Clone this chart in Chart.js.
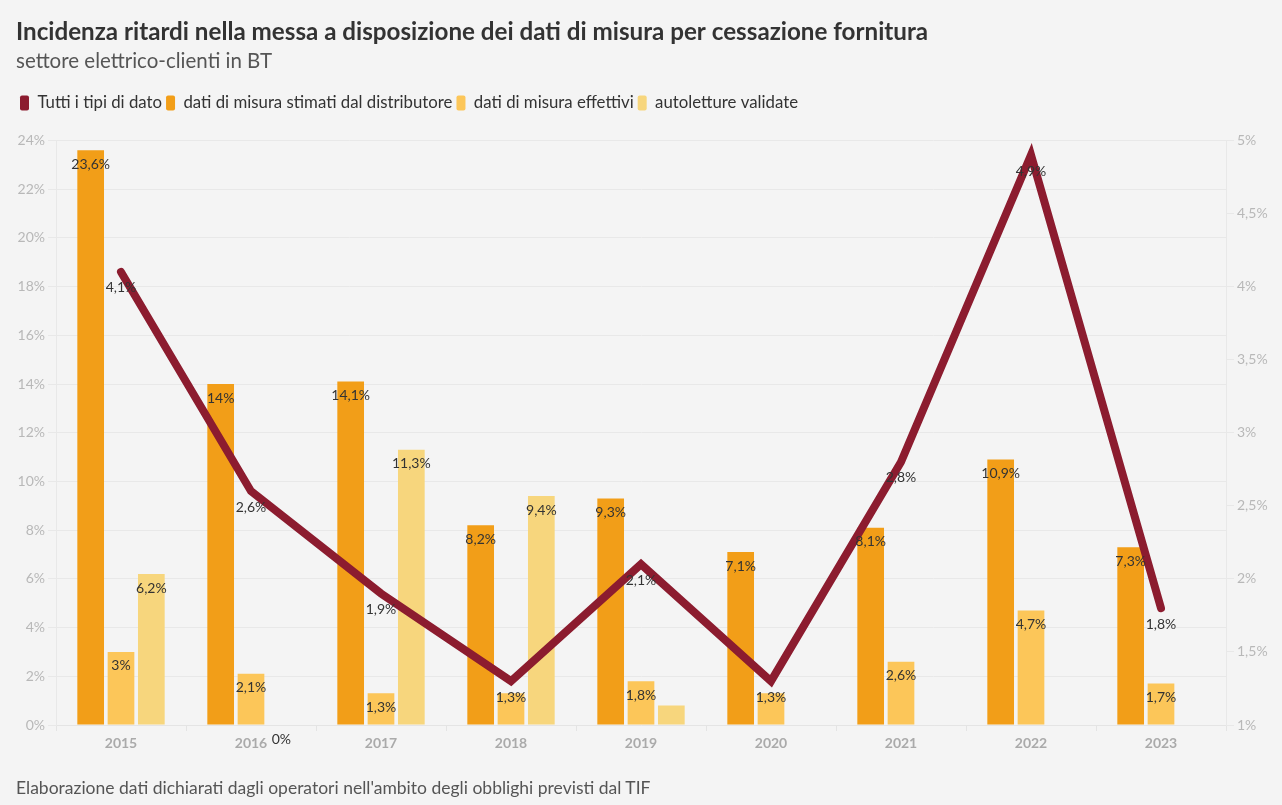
<!DOCTYPE html>
<html lang="it">
<head>
<meta charset="utf-8">
<title>Incidenza ritardi</title>
<script src="https://cdn.jsdelivr.net/npm/chart.js@4.4.1/dist/chart.umd.min.js"></script>
<style>
  html, body { margin: 0; padding: 0; background: #f4f4f4; }
  #wrap { position: relative; width: 1282px; height: 805px; }
  #note { position: absolute; left: 16px; top: 777px; font: 17.5px Lato, sans-serif; color: #555; }
</style>
</head>
<body>
<div id="wrap">
  <canvas id="chart" width="1282" height="805"></canvas>
  <div id="note">Elaborazione dati dichiarati dagli operatori nell'ambito degli obblighi previsti dal TIF</div>
</div>
<script>
// valori (percentuali)
const years       = ['2015', '2016', '2017', '2018', '2019', '2020', '2021', '2022', '2023'];
const tutti       = [4.1, 2.6, 1.9, 1.3, 2.1, 1.3, 2.8, 4.9, 1.8];
const stimati     = [23.6, 14, 14.1, 8.2, 9.3, 7.1, 8.1, 10.9, 7.3];
const effettivi   = [3, 2.1, 1.3, 1.3, 1.8, 1.3, 2.6, 4.7, 1.7];
const autoletture = [6.2, 0, 11.3, 9.4, 0.8, null, null, null, null];
// etichette nascoste nell'originale (sovrapposte o troppo piccole)
const effettiviNoLabel   = [3, 5];
const autoletturaNoLabel = [4];

const leftMin = 0, leftMax = 24, leftStep = 2;
const rightMin = 1, rightMax = 5, rightStep = 0.5;

const fmt = v => String(v).replace('.', ',') + '%';

Chart.defaults.font.family = 'Lato, sans-serif';

const labelsPlugin = {
  id: 'valueLabels',
  afterDatasetsDraw(chart) {
    const ctx = chart.ctx;
    ctx.save();
    ctx.font = '14px Lato, sans-serif';
    ctx.fillStyle = '#333';
    ctx.textAlign = 'center';
    ctx.textBaseline = 'middle';
    chart.data.datasets.forEach((ds, i) => {
      const meta = chart.getDatasetMeta(i);
      meta.data.forEach((el, j) => {
        const v = ds.data[j];
        if (v == null) return;
        if (ds.noLabel && ds.noLabel.includes(j)) return;
        const off = ds.type === 'line' ? 16 : 14;
        ctx.fillText(fmt(v), el.x, el.y + off);
      });
    });
    ctx.restore();
  }
};

// spazio extra sotto la legenda
const legendGap = {
  id: 'legendGap',
  beforeInit(chart) {
    const fit = chart.legend.fit;
    chart.legend.fit = function () {
      fit.call(this);
      this.height += 19;
    };
  }
};

new Chart(document.getElementById('chart'), {
  data: {
    labels: years,
    datasets: [
      { type: 'line', label: 'Tutti i tipi di dato', data: tutti, yAxisID: 'y1',
        borderColor: '#8c1c2f', backgroundColor: '#8c1c2f', borderWidth: 8,
        borderJoinStyle: 'miter', borderCapStyle: 'round', pointRadius: 0, tension: 0, order: 0 },
      { type: 'bar', label: 'dati di misura stimati dal distributore', data: stimati, yAxisID: 'y',
        backgroundColor: '#f29e18', order: 1 },
      { type: 'bar', label: 'dati di misura effettivi', data: effettivi, yAxisID: 'y',
        backgroundColor: '#fcc659', order: 1, noLabel: effettiviNoLabel },
      { type: 'bar', label: 'autoletture validate', data: autoletture, yAxisID: 'y',
        backgroundColor: '#f7d67d', order: 1, noLabel: autoletturaNoLabel }
    ]
  },
  options: {
    responsive: false,
    animation: false,
    layout: { padding: { left: 16, right: 10, top: 8, bottom: 50 } },
    datasets: { bar: { categoryPercentage: 0.7, barPercentage: 0.88 } },
    plugins: {
      title: { display: true, text: 'Incidenza ritardi nella messa a disposizione dei dati di misura per cessazione fornitura',
        align: 'start', color: '#333', font: { size: 24.2, weight: 'bold' }, padding: { top: 10, bottom: 0 } },
      subtitle: { display: true, text: 'settore elettrico-clienti in BT', align: 'start', color: '#555',
        font: { size: 20.5 }, padding: { top: 2, bottom: 17 } },
      legend: { align: 'start',
        labels: { boxWidth: 9, boxHeight: 15, useBorderRadius: true, borderRadius: 2, color: '#333',
          font: { size: 16.8 }, padding: 4,
          generateLabels: chart => Chart.defaults.plugins.legend.labels.generateLabels(chart)
            .map(item => Object.assign(item, { lineWidth: 0, fillStyle: chart.data.datasets[item.datasetIndex].backgroundColor })) } },
      tooltip: { enabled: false }
    },
    scales: {
      x: {
        grid: { drawOnChartArea: false, color: '#e4e4e4', tickLength: 6 },
        border: { color: '#e4e4e4' },
        ticks: { color: '#aaa', font: { size: 14, weight: 'bold' }, padding: 4 },
        afterFit: s => { s.height = 30; }
      },
      y: {
        position: 'left', min: leftMin, max: leftMax,
        grid: { color: '#e8e8e8', tickLength: 8 },
        border: { color: '#e8e8e8' },
        ticks: { stepSize: leftStep, color: '#b8b8b8', font: { size: 14 }, callback: v => v + '%' },
        afterFit: s => { s.width = 40; }
      },
      y1: {
        position: 'right', min: rightMin, max: rightMax,
        grid: { drawOnChartArea: false, color: '#e8e8e8', tickLength: 8 },
        border: { color: '#e8e8e8' },
        ticks: { stepSize: rightStep, color: '#b8b8b8', font: { size: 14 }, callback: v => fmt(v) },
        afterFit: s => { s.width = 46; }
      }
    }
  },
  plugins: [labelsPlugin, legendGap]
});
</script>
</body>
</html>
